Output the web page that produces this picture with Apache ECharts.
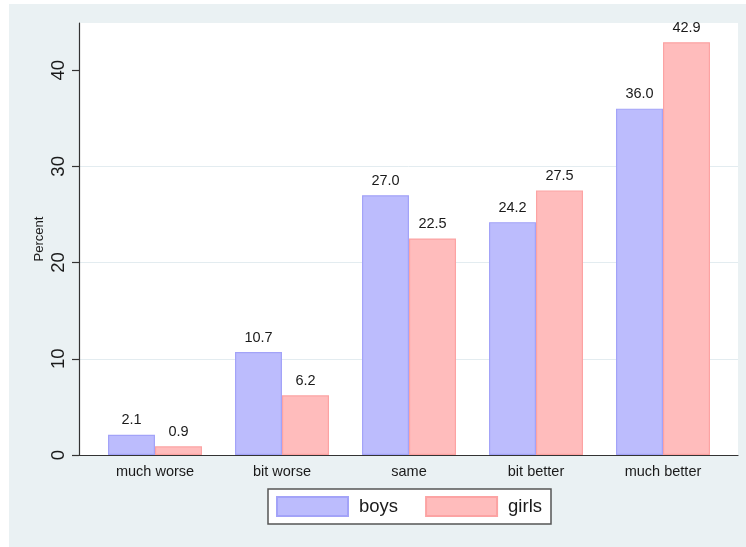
<!DOCTYPE html>
<html><head><meta charset="utf-8">
<script src="https://cdn.jsdelivr.net/npm/echarts@6/dist/echarts.min.js"></script>
<style>html,body{margin:0;padding:0;background:#fff}#c{width:746px;height:547px}</style>
</head><body><div id="c"></div>
<script>
const categories = ['much worse', 'bit worse', 'same', 'bit better', 'much better'];
const boys = [2.1, 10.7, 27.0, 24.2, 36.0];
const girls = [0.9, 6.2, 22.5, 27.5, 42.9];
const yTicks = [0, 10, 20, 30, 40];
const seriesNames = ['boys', 'girls'];

const FONT = 'Liberation Sans, Arial, sans-serif';
const TXT = '#1a1a1a';
const YMAX = 44.9;
const chart = echarts.init(document.getElementById('c'), null, {renderer: 'canvas'});
const lbl = {show: true, position: 'top', distance: 7, fontFamily: FONT, fontSize: 14.5, color: TXT,
  formatter: p => p.value.toFixed(1)};
chart.setOption({
  backgroundColor: '#ffffff',
  animation: false,
  graphic: [{type: 'rect', left: 9, top: 4, shape: {width: 737, height: 543}, style: {fill: '#eaf1f3'}, z: -10}],
  grid: [
    {left: 79, right: 8, top: 23, bottom: 92, show: true, backgroundColor: '#ffffff', borderWidth: 0},
    {left: 91.5, right: 19.5, top: 23, bottom: 92}
  ],
  xAxis: [
    {gridIndex: 0, type: 'value', min: 0, max: 1, axisLine: {show: true, onZero: false, lineStyle: {color: '#333', width: 1.2}},
      axisTick: {show: false}, axisLabel: {show: false}, splitLine: {show: false}},
    {gridIndex: 1, type: 'category', data: categories, axisLine: {show: false}, axisTick: {show: false},
      axisLabel: {margin: 9, fontFamily: FONT, fontSize: 14.5, color: TXT}}
  ],
  yAxis: [
    {gridIndex: 0, type: 'value', min: 0, max: YMAX, interval: 10,
      name: 'Percent', nameLocation: 'middle', nameRotate: 90, nameGap: 33, nameMoveOverlap: false,
      nameTextStyle: {fontFamily: FONT, fontSize: 13, color: TXT},
      axisLine: {show: true, lineStyle: {color: '#333', width: 1.2}},
      axisTick: {show: true, length: 7, customValues: yTicks, lineStyle: {color: '#333', width: 1.2}},
      axisLabel: {rotate: 90, margin: 11, fontFamily: FONT, fontSize: 18.5, color: TXT, customValues: yTicks},
      splitLine: {show: true, showMinLine: false, showMaxLine: false, lineStyle: {color: '#e3ecf0', width: 1}}},
    {gridIndex: 1, type: 'value', min: 0, max: YMAX, show: false}
  ],
  legend: {
    left: 268, top: 489, orient: 'horizontal',
    data: seriesNames, icon: 'rect', itemWidth: 71, itemHeight: 19, itemGap: 27,
    backgroundColor: '#ffffff', borderColor: '#555', borderWidth: 1.5,
    padding: [7, 9, 7, 8],
    textStyle: {fontFamily: FONT, fontSize: 18.5, color: TXT, padding: [0, 0, 0, 6]}
  },
  series: [
    {name: seriesNames[0], type: 'bar', xAxisIndex: 1, yAxisIndex: 1, data: boys,
      barGap: '0%', barCategoryGap: '26%',
      itemStyle: {color: '#bcbcfd', borderColor: '#a3a3f8', borderWidth: 1.2}, label: lbl},
    {name: seriesNames[1], type: 'bar', xAxisIndex: 1, yAxisIndex: 1, data: girls,
      barGap: '0%', barCategoryGap: '26%',
      itemStyle: {color: '#ffbcbc', borderColor: '#fca3a3', borderWidth: 1.2}, label: lbl}
  ]
});
</script></body></html>
